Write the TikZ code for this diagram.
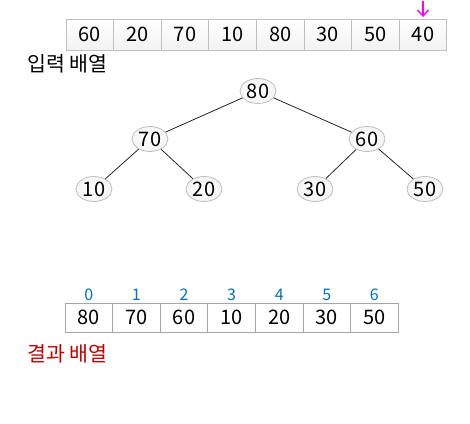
\documentclass[tikz,border=0pt]{standalone}
\usepackage{fontspec}
\setmainfont{Noto Sans CJK KR}
\usetikzlibrary{shapes.geometric,arrows.meta}
\definecolor{idxblue}{RGB}{0,112,192}
\definecolor{resred}{RGB}{192,0,0}
\definecolor{arrmag}{RGB}{250,0,250}
\begin{document}
\begin{tikzpicture}[x=1pt,y=-1pt,
  incell/.style={draw=gray!50, line width=0.9pt, top color=white, bottom color=gray!10,
    minimum width=47.6pt, minimum height=31pt, inner sep=0pt, font=\fontsize{20}{20}\selectfont},
  outcell/.style={draw=gray!70, line width=0.8pt, fill=white,
    minimum width=47.6pt, minimum height=29pt, inner sep=0pt, font=\fontsize{20}{20}\selectfont},
  idx/.style={text=idxblue, inner sep=0pt, font=\fontsize{16}{16}\selectfont},
  tnode/.style={ellipse, draw=gray!50, line width=0.8pt, inner color=white, outer color=gray!9,
    minimum width=36pt, minimum height=25pt, inner sep=0pt, font=\fontsize{20}{20}\selectfont},
  edge/.style={draw=black!85, line width=0.8pt},
  lbl/.style={inner sep=0pt, anchor=west, font=\fontsize{20.5}{20.5}\selectfont}
]
\useasboundingbox (0,0) rectangle (470,423);

% input array
\foreach \v [count=\i] in {60,20,70,10,80,30,50,40} {
  \node[incell] (t\i) at ({66+47.6*(\i-0.5)},34.5) {\v};
}
\coordinate (arrtop) at (t8.north |- 0,1);
\draw[arrmag, line width=1.4pt, -{Straight Barb[length=6pt,width=11pt]}, shorten >=1.5pt] (arrtop) -- (t8.north);
\node[lbl] (inlbl) at (27,64) {입력 배열};

% tree
\node[tnode] (n80) at (258,91) {80};
\node[tnode] (n70) at (150,139) {70};
\node[tnode] (n60) at (367,139) {60};
\node[tnode] (n10) at (94,189) {10};
\node[tnode] (n20) at (204,189) {20};
\node[tnode] (n30) at (315,189) {30};
\node[tnode] (n50) at (425,189) {50};
\draw[edge] (n80) -- (n70);
\draw[edge] (n80) -- (n60);
\draw[edge] (n70) -- (n10);
\draw[edge] (n70) -- (n20);
\draw[edge] (n60) -- (n30);
\draw[edge] (n60) -- (n50);

% result array
\foreach \v [count=\i] in {80,70,60,10,20,30,50} {
  \node[outcell] (b\i) at ({65+47.6*(\i-0.5)},317.5) {\v};
  \pgfmathtruncatemacro{\k}{\i-1}
  \node[idx] (i\i) at ({65+47.6*(\i-0.5)},295) {\k};
}
\node[lbl, text=resred] (outlbl) at (27,354) {결과 배열};
\end{tikzpicture}
\end{document}
